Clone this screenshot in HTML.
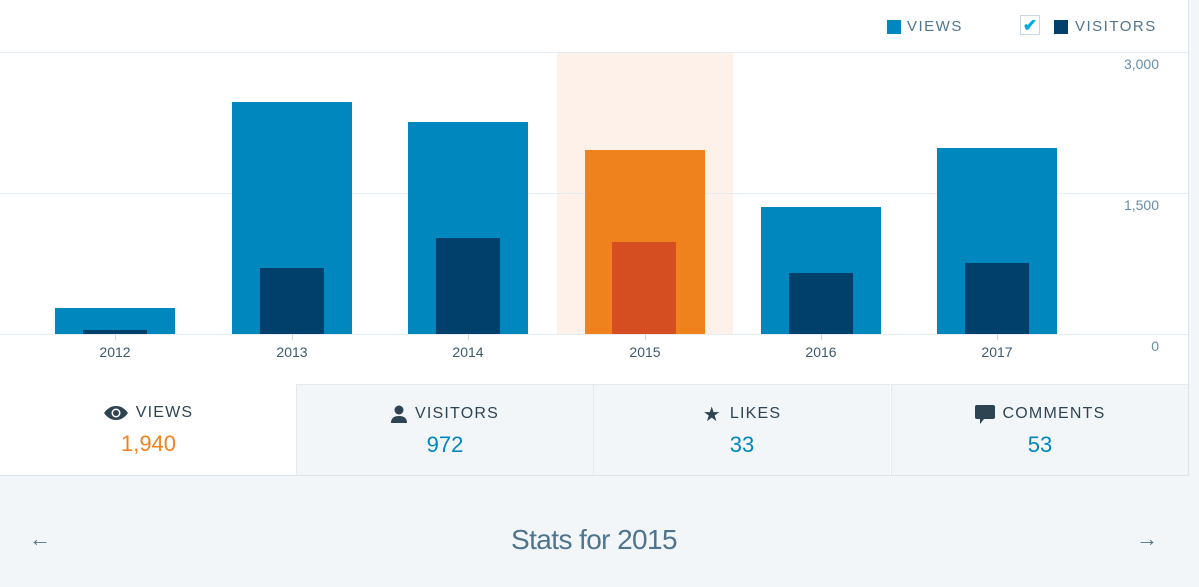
<!DOCTYPE html>
<html><head><meta charset="utf-8"><style>
body{margin:0;width:1199px;height:587px;background:#f3f6f8;font-family:"Liberation Sans",sans-serif;position:relative;overflow:hidden}
.a{position:absolute}
.panel{left:0;top:0;width:1188px;height:475px;background:#fff;border-right:1px solid #dde5ec;border-bottom:1px solid #dde5ec}
.g{height:1px;background:#e6edf2;left:0;width:1188px}
.v{background:#0087be;width:120px}
.d{background:#00406a;width:64px}
.yr{font-size:14px;color:#3d596d;width:80px;text-align:center;top:344px}
.tk{width:1px;height:6px;background:#c8d7e1;top:334px}
.yl{font-size:14px;color:#668eaa;right:40px;text-align:right}
.tile{top:384px;height:91px;width:297px;background:#f3f6f8;border-left:1px solid #e2e9ef;border-top:1px solid #e2e9ef;box-sizing:border-box;text-align:center}
.lab{font-size:16px;letter-spacing:1.2px;color:#2e4453;margin-top:19px;height:20px;display:flex;justify-content:center;align-items:center;gap:8px}
.num{font-size:22px;color:#0087be;margin-top:8px}
.lg{font-size:15px;letter-spacing:1.5px;color:#4f748e;top:18px}
</style></head><body>
<div class="a panel"></div>
<div class="a" style="left:557px;top:52px;width:176px;height:282px;background:#fdf1e9"></div>
<div class="a g" style="top:52px"></div>
<div class="a g" style="top:193px"></div>
<div class="a g" style="top:334px"></div>
<div class="a yl" style="top:56px">3,000</div>
<div class="a yl" style="top:197px">1,500</div>
<div class="a yl" style="top:338px">0</div>

<div class="a v" style="left:55px;top:308px;height:26px"></div><div class="a d" style="left:83px;top:330px;height:4px"></div>
<div class="a v" style="left:232px;top:102px;height:232px"></div><div class="a d" style="left:260px;top:268px;height:66px"></div>
<div class="a v" style="left:408px;top:122px;height:212px"></div><div class="a d" style="left:436px;top:238px;height:96px"></div>
<div class="a v" style="left:585px;top:150px;height:184px;background:#f0821e"></div><div class="a d" style="left:612px;top:242px;height:92px;background:#d54e21"></div>
<div class="a v" style="left:761px;top:207px;height:127px"></div><div class="a d" style="left:789px;top:273px;height:61px"></div>
<div class="a v" style="left:937px;top:148px;height:186px"></div><div class="a d" style="left:965px;top:263px;height:71px"></div>

<div class="a tk" style="left:115px"></div><div class="a tk" style="left:292px"></div><div class="a tk" style="left:468px"></div><div class="a tk" style="left:645px"></div><div class="a tk" style="left:821px"></div><div class="a tk" style="left:997px"></div>
<div class="a yr" style="left:75px">2012</div><div class="a yr" style="left:252px">2013</div><div class="a yr" style="left:428px">2014</div><div class="a yr" style="left:605px">2015</div><div class="a yr" style="left:781px">2016</div><div class="a yr" style="left:957px">2017</div>

<div class="a" style="left:887px;top:20px;width:14px;height:14px;background:#0087be"></div>
<div class="a lg" style="left:907px">VIEWS</div>
<div class="a" style="left:1020px;top:15px;width:20px;height:20px;border:1px solid #c8d7e1;box-sizing:border-box;background:#fff;color:#00aadc;font-size:17px;line-height:19px;text-align:center;font-weight:bold">✔</div>
<div class="a" style="left:1054px;top:20px;width:14px;height:14px;background:#00406a"></div>
<div class="a lg" style="left:1075px">VISITORS</div>

<div class="a tile" style="left:0;background:#fff;border-left:none;border-top:none"><div class="lab"><svg width="24" height="14" viewBox="0 0 24 14"><path d="M12 0C6 0 2 4 0 7c2 3 6 7 12 7s10-4 12-7C22 4 18 0 12 0z" fill="#2e4453"/><circle cx="12" cy="7" r="4.5" fill="#fff"/><circle cx="12" cy="7" r="3" fill="#2e4453"/></svg>VIEWS</div><div class="num" style="color:#f0821e">1,940</div></div>
<div class="a tile" style="left:296px"><div class="lab"><svg width="16" height="18" viewBox="0 0 16 18"><circle cx="8" cy="5" r="4.5" fill="#2e4453"/><path d="M0 18c0-5 3-7 8-7s8 2 8 7z" fill="#2e4453"/></svg>VISITORS</div><div class="num">972</div></div>
<div class="a tile" style="left:593px"><div class="lab"><span style="font-size:20px">★</span>LIKES</div><div class="num">33</div></div>
<div class="a tile" style="left:891px;width:297px"><div class="lab"><svg width="20" height="19" viewBox="0 0 20 19"><path d="M2 0h16a2 2 0 0 1 2 2v10a2 2 0 0 1-2 2H9l-4 5v-5H2a2 2 0 0 1-2-2V2a2 2 0 0 1 2-2z" fill="#2e4453"/></svg>COMMENTS</div><div class="num">53</div></div>

<div class="a" style="left:0;width:1188px;top:524px;text-align:center;font-size:28px;color:#4f748e;letter-spacing:-0.6px">Stats for 2015</div>
<div class="a" style="left:29px;top:526px;font-size:22px;color:#4f748e">←</div>
<div class="a" style="left:1136px;top:526px;font-size:22px;color:#4f748e">→</div>
</body></html>
